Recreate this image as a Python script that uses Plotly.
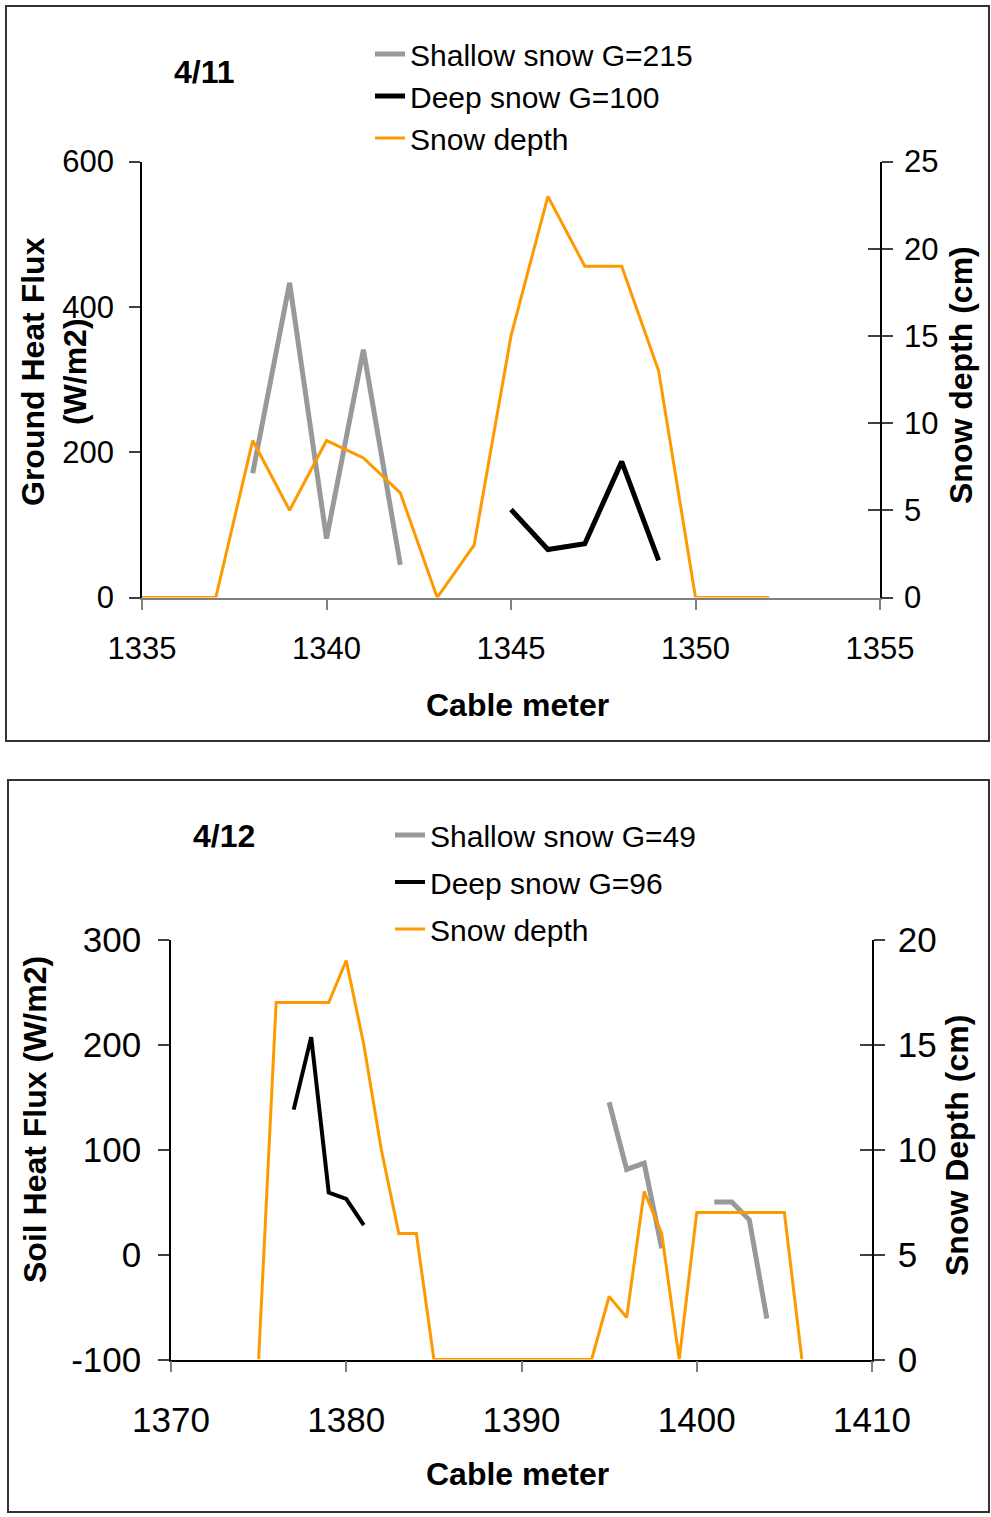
import plotly.graph_objects as go

W, H = 991, 1517

# ---------------- data: panel 4/11 ----------------
top_meter = [1335, 1336, 1337, 1338, 1339, 1340, 1341, 1342, 1343, 1344,
             1345, 1346, 1347, 1348, 1349, 1350, 1351, 1352]
top_snow_depth = [0, 0, 0, 9, 5, 9, 8, 6, 0, 3, 15, 23, 19, 19, 13, 0, 0, 0]
top_shallow_meter = [1338, 1339, 1340, 1341, 1342]
top_shallow_flux = [171, 433, 81, 341, 45]
top_deep_meter = [1345, 1346, 1347, 1348, 1349]
top_deep_flux = [121, 66, 74, 187, 51]

# ---------------- data: panel 4/12 ----------------
bot_meter = list(range(1375, 1407))
bot_snow_depth = [0, 17, 17, 17, 17, 19, 15, 10, 6, 6, 0,
                  0, 0, 0, 0, 0, 0, 0, 0, 0,
                  3, 2, 8, 6, 0, 7, 7, 7, 7, 7, 7, 0]
bot_shallow_meter = [1395, 1396, 1397, 1398, 1399, 1400, 1401, 1402, 1403, 1404]
bot_shallow_flux = [145, 81, 87, 6, None, None, 50, 50, 33, -61]
bot_deep_meter = [1377, 1378, 1379, 1380, 1381]
bot_deep_flux = [138, 207, 59, 53, 28]

bot_flux_ticks = [-100, 0, 100, 200, 300]
bot_flux_ticklabels = ["-100", "0", "100", "200", "300"]

GRAY = "#999999"
ORANGE = "#FF9900"
FONT = "Liberation Sans, Arial, sans-serif"

fig = go.Figure()

# top panel traces
fig.add_trace(go.Scatter(x=top_shallow_meter, y=top_shallow_flux, mode="lines",
                         name="Shallow snow G=215", line=dict(color=GRAY, width=5),
                         xaxis="x", yaxis="y", legend="legend"))
fig.add_trace(go.Scatter(x=top_deep_meter, y=top_deep_flux, mode="lines",
                         name="Deep snow G=100", line=dict(color="black", width=5),
                         xaxis="x", yaxis="y", legend="legend"))
fig.add_trace(go.Scatter(x=top_meter, y=top_snow_depth, mode="lines",
                         name="Snow depth", line=dict(color=ORANGE, width=3),
                         xaxis="x", yaxis="y2", legend="legend"))

# bottom panel traces
fig.add_trace(go.Scatter(x=bot_shallow_meter, y=bot_shallow_flux, mode="lines",
                         name="Shallow snow G=49", line=dict(color=GRAY, width=5),
                         connectgaps=False,
                         xaxis="x2", yaxis="y3", legend="legend2", legendgroup="a"))
fig.add_trace(go.Scatter(x=bot_deep_meter, y=bot_deep_flux, mode="lines",
                         name="Deep snow G=96", line=dict(color="black", width=4),
                         xaxis="x2", yaxis="y3", legend="legend2", legendgroup="b"))
fig.add_trace(go.Scatter(x=bot_meter, y=bot_snow_depth, mode="lines",
                         name="Snow depth", line=dict(color=ORANGE, width=3),
                         xaxis="x2", yaxis="y4", legend="legend2", legendgroup="c"))

# invisible traces for the inner half of crossing ticks on right axes
fig.add_trace(go.Scatter(x=[None], y=[None], xaxis="x", yaxis="y5", showlegend=False))
fig.add_trace(go.Scatter(x=[None], y=[None], xaxis="x2", yaxis="y6", showlegend=False))

def px_x(p):
    return p / W

def px_y(p):
    return 1 - p / H

top_xd = [px_x(142), px_x(880)]
top_yd = [px_y(597.5), px_y(161.5)]
bot_xd = [px_x(171), px_x(872)]
bot_yd = [px_y(1359.5), px_y(939.5)]

tick31 = dict(family=FONT, size=31, color="black")
tick35 = dict(family=FONT, size=35, color="black")

common = dict(showgrid=False, zeroline=False, showline=True, ticks="outside",
              ticklen=11, tickwidth=1.5, linewidth=1.5, automargin=False)
inner = dict(showgrid=False, zeroline=False, showline=False, ticks="inside",
             ticklen=12, tickwidth=1.5, tickcolor="#404040", showticklabels=False,
             automargin=False)

fig.update_layout(
    template="none",
    width=W, height=H,
    margin=dict(l=0, r=0, t=0, b=0, pad=0),
    paper_bgcolor="white", plot_bgcolor="white",
    font=dict(family=FONT, color="black"),
    xaxis=dict(domain=top_xd, anchor="y", range=[1335, 1355], dtick=5, tick0=1335,
               linecolor="#808080", tickcolor="#808080", tickfont=tick31,
               ticklabelstandoff=12, **common),
    yaxis=dict(domain=top_yd, anchor="x", range=[0, 600], dtick=200,
               linecolor="black", tickcolor="#404040", tickfont=tick31,
               ticklabelstandoff=9, **common),
    yaxis2=dict(overlaying="y", anchor="x", side="right", range=[0, 25], dtick=5,
                linecolor="black", tickcolor="#404040", tickfont=tick31,
                ticklabelstandoff=5, **common),
    yaxis5=dict(overlaying="y", anchor="x", side="right", range=[0, 25], dtick=5, **inner),
    xaxis2=dict(domain=bot_xd, anchor="y3", range=[1370, 1410], dtick=10, tick0=1370,
                linecolor="black", tickcolor="#808080", tickfont=tick35,
                ticklabelstandoff=18, **common),
    yaxis3=dict(domain=bot_yd, anchor="x2", range=[-100, 300],
                tickmode="array", tickvals=bot_flux_ticks, ticktext=bot_flux_ticklabels,
                linecolor="black", tickcolor="#404040", tickfont=tick35,
                ticklabelstandoff=10, **common),
    yaxis4=dict(overlaying="y3", anchor="x2", side="right", range=[0, 20], dtick=5,
                linecolor="black", tickcolor="#404040", tickfont=tick35,
                ticklabelstandoff=6, **common),
    yaxis6=dict(overlaying="y3", anchor="x2", side="right", range=[0, 20], dtick=5, **inner),
    legend=dict(x=px_x(370), y=px_y(28), xanchor="left", yanchor="top",
                bgcolor="rgba(0,0,0,0)", font=dict(family=FONT, size=30, color="black"),
                tracegroupgap=0, traceorder="normal"),
    legend2=dict(x=px_x(390), y=px_y(809), xanchor="left", yanchor="top",
                 bgcolor="rgba(0,0,0,0)", font=dict(family=FONT, size=30, color="black"),
                 tracegroupgap=5, traceorder="grouped"),
    showlegend=True,
)

bold = dict(family=FONT, size=32, color="black")
annots = [
    dict(text="<b>4/11</b>", x=px_x(204), y=px_y(72), font=bold, textangle=0),
    dict(text="<b>4/12</b>", x=px_x(224), y=px_y(836), font=bold, textangle=0),
    dict(text="<b>Ground Heat Flux<br>(W/m2)</b>", x=px_x(54), y=px_y(372),
         font=bold, textangle=-90),
    dict(text="<b>Snow depth (cm)</b>", x=px_x(961), y=px_y(375), font=bold, textangle=-90),
    dict(text="<b>Cable meter</b>", x=px_x(517), y=px_y(705), font=bold, textangle=0),
    dict(text="<b>Soil Heat Flux (W/m2)</b>", x=px_x(35), y=px_y(1120),
         font=bold, textangle=-90),
    dict(text="<b>Snow Depth (cm)</b>", x=px_x(957), y=px_y(1146), font=bold, textangle=-90),
    dict(text="<b>Cable meter</b>", x=px_x(517), y=px_y(1474), font=bold, textangle=0),
]
for a in annots:
    fig.add_annotation(xref="paper", yref="paper", showarrow=False,
                       xanchor="center", yanchor="middle", **a)

# chart-area borders
fig.add_shape(type="rect", xref="paper", yref="paper",
              x0=px_x(6), x1=px_x(989), y0=px_y(741), y1=px_y(6),
              line=dict(color="#333333", width=2), fillcolor="rgba(0,0,0,0)")
fig.add_shape(type="rect", xref="paper", yref="paper",
              x0=px_x(8), x1=px_x(989), y0=px_y(1512), y1=px_y(780),
              line=dict(color="#333333", width=2), fillcolor="rgba(0,0,0,0)")

fig.write_html("out.html",
               config={"displayModeBar": False},
               post_script="document.body.style.margin='0';document.body.style.overflow='hidden';")
